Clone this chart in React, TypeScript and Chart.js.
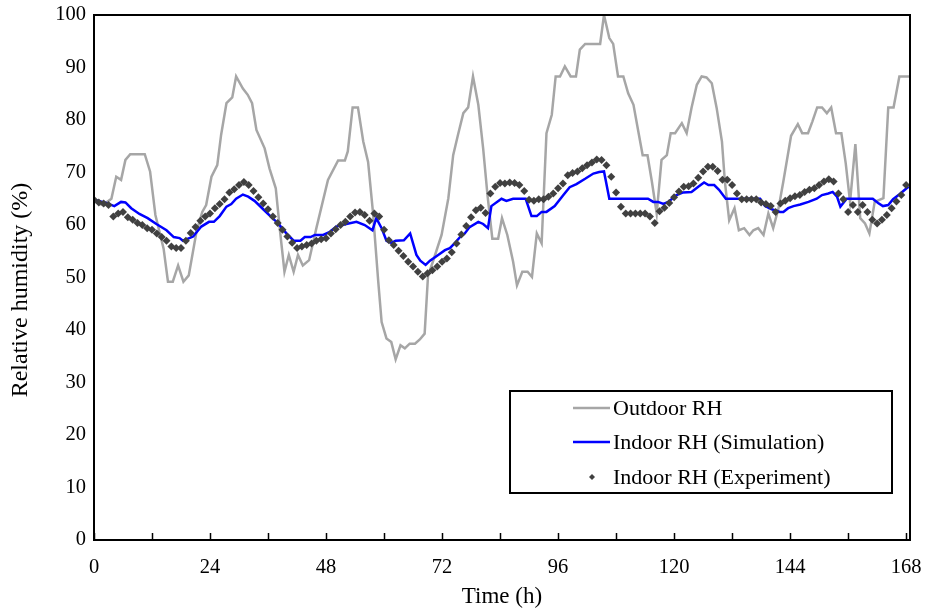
import React, { useEffect, useRef } from "react";
import { Chart, registerables } from "chart.js";

Chart.register(...registerables);

const FONT = "'Liberation Serif', 'Times New Roman', Times, serif";

// Outdoor RH (hours, %)
const outdoorHours = [
  0, 1.8, 3.6, 4.6, 5.6, 6.5, 7.5, 10.5, 11.6, 12.7, 14.4, 15.3, 16.3, 17.4, 18.5, 19.6, 21.2, 22.4, 23.2,
  24.3, 25.5, 26.3, 27.4, 28.6, 29.4, 30.8, 31.8, 32.7, 33.6, 35.3, 36.3, 37.6, 38.5, 39.4, 40.3, 41.3, 42.2,
  43.2, 44.5, 46, 48.4, 50.5, 51.9, 52.5, 53.5, 54.6, 55.7, 56.7, 57.7, 58.8, 59.5, 60.5, 61.5, 62.4, 63.4,
  64.3, 65.3, 66.4, 67.4, 68.4, 69.1, 70.1, 71.9, 73.3, 74.3, 75.3, 76.4, 77.4, 78.4, 79.5, 80.5, 81.4, 82.4,
  83.6, 84.4, 85.5, 86.7, 87.5, 88.6, 89.7, 90.6, 91.6, 92.6, 93.6, 94.7, 95.5, 96.4, 97.4, 98.6, 99.7, 100.5,
  101.6, 104.7, 105.5, 106.6, 107.4, 108.4, 109.5, 110.5, 111.6, 112.6, 113.5, 114.5, 115.4, 116.4, 117.4,
  118.5, 119.3, 120.2, 121.6, 122.6, 123.6, 124.7, 125.7, 126.7, 127.8, 128.8, 129.9, 130.5, 131.4, 132.5,
  133.4, 134.5, 135.6, 136.4, 137.4, 138.5, 139.5, 140.5, 141.6, 142.6, 144.2, 145.6, 146.5, 147.7, 148.6,
  149.6, 150.6, 151.6, 152.5, 153.5, 154.6, 155.5, 156.4, 157.5, 158.5, 159.5, 160.4, 161.5, 163.3, 164.3,
  165.4, 166.6, 168.8,
];
const outdoorRH = [
  64.5, 63.8, 65, 69.2, 68.6, 72.4, 73.5, 73.5, 70.2, 61.9, 55.5, 49.2, 49.2, 52.3, 49.2, 50.4, 58.7, 62.5, 63.8,
  69.2, 71.4, 77.2, 83.2, 84.3, 88.3, 86, 84.8, 83.2, 78.1, 74.6, 70.8, 67, 58.7, 51.1, 54.3, 51.1, 54.3,
  52.3, 53.3, 59.4, 68.6, 72.3, 72.3, 74, 82.4, 82.4, 75.9, 72, 62.5, 49.2, 41.5, 38.4, 37.7, 34.4, 37.1,
  36.5, 37.4, 37.4, 38.2, 39.3, 50.4, 53, 58.1, 65.1, 73.3, 77.2, 81.3, 82.4, 88.3, 82.9, 74.6, 65.7, 57.4,
  57.4, 61.3, 58.1, 53, 48.5, 51.1, 51.1, 50.1, 58.4, 56.5, 77.5, 81, 88.3, 88.3, 90.2, 88.3, 88.3, 93.4,
  94.5, 94.5, 100, 95.6, 94.5, 88.3, 88.3, 85.1, 82.9, 77.8, 73.3, 73.3, 68.3, 62.2, 72.4,
  73.3, 77.5, 77.5, 79.4, 77.5, 82.3, 86.7, 88.3, 88.1, 87, 82.3, 75.9, 68.3, 60.9, 63.2,
  59, 59.4, 58.1, 59, 59.4, 58.1, 62.2, 59.4, 63.2, 68.3, 77, 79.2, 77.5, 77.5, 79.7,
  82.4, 82.4, 81.3, 82.4, 77.5, 77.5, 71.8, 64.4, 75.4, 61.3, 60.3, 58.4, 64.4, 65.1, 82.4,
  82.4, 88.3, 88.3,
];

// Indoor RH, simulation (hours, %)
const simHours = [
  0, 2.5, 4.2, 5.6, 6.5, 7.7, 9.4, 11.1, 12.9, 15, 16.5, 17.7, 18.4, 20.5, 22.2, 23.8, 24.8, 26, 27.4, 28.4,
  29.4, 30.8, 31.9, 33.2, 35, 36.9, 38, 39.8, 41.3, 42.7, 43.6, 44.8, 45.7, 47.4, 48.8, 50.1, 52.2, 54.3, 56,
  57.6, 58.4, 59.5, 60.5, 61.5, 62.4, 64.1, 65.4, 66.7, 67.5, 68.6, 69.5, 71.2, 72.6, 73.6, 74.6, 75.8, 76.7,
  77.7, 79.5, 80.5, 81.5, 82.2, 84.3, 85.3, 86.7, 89.3, 90.5, 91.6, 92.6, 93.6, 95.3, 97.1, 98.4, 99.8, 101.6,
  103.3, 104.5, 105.5, 106.6, 114.6, 115.7, 116.7, 117.8, 118.8, 120.5, 121.9, 123.6, 125, 126.2, 127.1, 128.3,
  129.3, 130.7, 137.8, 138.8, 140.2, 141.9, 142.6, 143.6, 144.7, 146.1, 147.8, 149.5, 150.6, 151.9, 152.8,
  153.7, 154.4, 155.7, 161.1, 162.2, 163.2, 164.3, 165.3, 166.7, 168.1, 168.5,
];
const simRH = [
  64.8, 64.2, 63.6, 64.4, 64.3, 63.2, 62.1, 61.3, 60.2, 59, 57.7, 57.5, 57, 57.8, 59.7, 60.6, 60.6, 61.7, 63.5, 64,
  65, 65.8, 65.4, 64.6, 63, 61.3, 60.4, 58.4, 57, 57, 57.7, 57.7, 58.1, 58.1, 58.7, 59.7, 60.2, 60.6, 60,
  59, 61.3, 59.4, 57, 56.6, 57, 57.1, 58.4, 54.3, 53.2, 52.4, 53.2, 54.3, 55.2, 55.6, 56.5, 57.8, 58.4,
  59.6, 60.6, 60.2, 59.4, 63.6, 65, 64.6, 65, 65, 61.7, 61.7, 62.5, 62.5, 63.6, 65.7, 67.2, 67.8, 68.8,
  69.8, 70.1, 70.2, 65, 65, 64.4, 64.4, 64, 64.4, 65.7, 66.2, 66.3, 67.3, 68.1, 67.6, 67.6,
  66.7, 65, 65, 63.6, 63, 62.5, 62.5, 63.2, 63.6, 63.9, 64.4, 65, 65.7, 66, 66.3,
  65.4, 63.5, 65, 65, 64.2, 63.6, 63.8, 64.9, 65.9, 67, 67.3,
];

// Indoor RH, experiment (hourly, hour 0 to 168)
const expRH = [
  64.8, 64.3, 64.1, 63.8, 61.6, 62.2, 62.5, 61.5, 61.0, 60.4, 60.0, 59.4, 59.1, 58.4, 57.7, 57.0, 55.9, 55.6,
  55.6, 57.0, 58.5, 59.6, 60.8, 61.6, 62.2, 63.2, 64.0, 64.9, 66.2, 66.8, 67.6, 68.2, 67.6, 66.5, 65.3, 64.1,
  63.0, 61.6, 60.4, 59.1, 57.8, 56.6, 55.6, 55.9, 56.2, 56.5, 57.0, 57.3, 57.5, 58.4, 59.2, 60.0, 60.6, 61.6,
  62.4, 62.5, 61.9, 60.8, 62.2, 61.6, 59.1, 57.1, 56.2, 55.1, 54.1, 53.0, 52.1, 51.1, 50.2, 50.8, 51.4, 52.1,
  53.0, 53.6, 54.8, 56.5, 58.2, 59.8, 61.5, 62.8, 63.3, 62.3, 66.0, 67.3, 68.0, 67.9, 68.1, 68.0, 67.6, 66.5,
  64.8, 64.6, 64.9, 64.9, 65.4, 66.0, 67.0, 67.9, 69.5, 69.9, 70.2, 70.8, 71.4, 71.9, 72.5, 72.4, 71.4, 69.2,
  66.2, 63.5, 62.2, 62.2, 62.2, 62.2, 62.2, 61.6, 60.4, 62.6, 63.3, 64.2, 65.3, 66.4, 67.3, 67.4, 67.9, 69.0,
  70.2, 71.1, 71.1, 70.3, 68.6, 68.6, 67.6, 66.0, 64.9, 64.9, 64.9, 64.9, 64.3, 64.0, 63.6, 62.5, 64.1, 64.6,
  65.1, 65.5, 65.7, 66.3, 66.7, 67.0, 67.6, 68.3, 68.7, 68.3, 66.0, 64.9, 62.5, 63.8, 62.5, 63.8, 62.5, 61.0,
  60.3, 61.0, 61.9, 63.2, 64.5, 65.7, 67.6,
];

const xTickValues = [0, 12, 24, 36, 48, 60, 72, 84, 96, 108, 120, 132, 144, 156, 168];
const xLabelValues = [0, 24, 48, 72, 96, 120, 144, 168];
const yTickValues = [0, 10, 20, 30, 40, 50, 60, 70, 80, 90, 100];

const xTitle = "Time (h)";
const yTitle = "Relative humidity (%)";
const seriesLabels = ["Outdoor RH", "Indoor RH (Simulation)", "Indoor RH (Experiment)"];
const seriesColors = ["#a6a6a6", "#0000ff", "#404040"];

export default function App() {
  const ref = useRef<HTMLCanvasElement>(null);

  useEffect(() => {
    const canvas = ref.current;
    if (!canvas) return;

    const framePlugin = {
      id: "frame",
      afterDatasetsDraw(chart: any) {
        const { ctx, chartArea: a, scales } = chart;
        ctx.save();
        ctx.strokeStyle = "#000";
        ctx.lineWidth = 1.5;
        ctx.beginPath();
        for (const v of xTickValues) {
          const px = Math.round(scales.x.getPixelForValue(v)) + 0.5;
          ctx.moveTo(px, a.bottom);
          ctx.lineTo(px, a.bottom - 7);
        }
        ctx.stroke();
        ctx.lineWidth = 2;
        ctx.strokeRect(a.left, a.top, a.right - a.left, a.bottom - a.top);
        ctx.restore();
      },
    };

    const yTitlePlugin = {
      id: "yTitle",
      afterDraw(chart: any) {
        const { ctx } = chart;
        ctx.save();
        ctx.translate(21, 290);
        ctx.rotate(-Math.PI / 2);
        ctx.font = `24px ${FONT}`;
        ctx.fillStyle = "#000";
        ctx.textAlign = "center";
        ctx.textBaseline = "middle";
        ctx.fillText(yTitle, 0, 0);
        ctx.restore();
      },
    };

    const legendPlugin = {
      id: "boxLegend",
      afterDraw(chart: any) {
        const { ctx } = chart;
        const ds = chart.data.datasets;
        const box = { x: 510, y: 391, w: 382, h: 102 };
        ctx.save();
        ctx.fillStyle = "#fff";
        ctx.fillRect(box.x, box.y, box.w, box.h);
        ctx.strokeStyle = "#000";
        ctx.lineWidth = 2;
        ctx.strokeRect(box.x, box.y, box.w, box.h);
        ctx.font = `22px ${FONT}`;
        ctx.textBaseline = "middle";
        ctx.textAlign = "left";
        const rows = [408, 442, 477];
        ds.forEach((d: any, i: number) => {
          const y = rows[i];
          if (d.showLine === false) {
            ctx.fillStyle = d.pointBackgroundColor;
            ctx.beginPath();
            const r = 3;
            ctx.moveTo(592, y - r);
            ctx.lineTo(592 + r, y);
            ctx.lineTo(592, y + r);
            ctx.lineTo(592 - r, y);
            ctx.closePath();
            ctx.fill();
          } else {
            ctx.strokeStyle = d.borderColor;
            ctx.lineWidth = d.borderWidth;
            ctx.beginPath();
            ctx.moveTo(573, y);
            ctx.lineTo(610, y);
            ctx.stroke();
          }
          ctx.fillStyle = "#000";
          ctx.fillText(d.label, 613, y + 1);
        });
        ctx.restore();
      },
    };

    const chart = new Chart(canvas, {
      type: "line",
      data: {
        datasets: [
          {
            label: seriesLabels[0],
            data: outdoorHours.map((h, i) => ({ x: h, y: outdoorRH[i] })),
            borderColor: seriesColors[0],
            borderWidth: 2.5,
            pointRadius: 0,
            tension: 0,
            order: 3,
          },
          {
            label: seriesLabels[1],
            data: simHours.map((h, i) => ({ x: h, y: simRH[i] })),
            borderColor: seriesColors[1],
            borderWidth: 2.5,
            pointRadius: 0,
            tension: 0,
            order: 2,
          },
          {
            label: seriesLabels[2],
            data: expRH.map((v, i) => ({ x: i, y: v })),
            showLine: false,
            pointStyle: "rectRot",
            pointRadius: 4,
            pointBorderWidth: 0,
            pointBackgroundColor: seriesColors[2],
            pointBorderColor: seriesColors[2],
            borderColor: seriesColors[2],
            order: 1,
          },
        ],
      },
      options: {
        responsive: false,
        animation: false,
        devicePixelRatio: 1,
        layout: { padding: { top: 15, right: 17, left: 0, bottom: 0 } },
        plugins: {
          legend: { display: false },
          tooltip: { enabled: false },
        },
        scales: {
          x: {
            type: "linear",
            min: 0,
            max: 168.8,
            afterBuildTicks(scale: any) {
              scale.ticks = xTickValues.map((v) => ({ value: v }));
            },
            afterFit(scale: any) {
              scale.height = 74;
              scale.paddingLeft = 0;
              scale.paddingRight = 0;
            },
            grid: { display: false, drawTicks: false },
            border: { display: false },
            ticks: {
              autoSkip: false,
              maxRotation: 0,
              padding: 15,
              color: "#000",
              font: { family: FONT, size: 20.5 },
              callback: (v: any) => (xLabelValues.includes(Number(v)) ? String(v) : ""),
            },
            title: {
              display: true,
              text: xTitle,
              color: "#000",
              font: { family: FONT, size: 23 },
              padding: { top: 0, bottom: 3 },
            },
          },
          y: {
            min: 0,
            max: 100,
            afterBuildTicks(scale: any) {
              scale.ticks = yTickValues.map((v) => ({ value: v }));
            },
            afterFit(scale: any) {
              scale.width = 94;
              scale.paddingTop = 0;
              scale.paddingBottom = 0;
            },
            grid: { display: false, drawTicks: false },
            border: { display: false },
            ticks: {
              padding: 8,
              color: "#000",
              font: { family: FONT, size: 20.5 },
            },
            title: { display: false },
          },
        },
      },
      plugins: [framePlugin, yTitlePlugin, legendPlugin],
    });

    return () => chart.destroy();
  }, []);

  return (
    <div style={{ position: "absolute", left: 0, top: 0, width: 927, height: 614, background: "#fff" }}>
      <canvas ref={ref} width={927} height={614} style={{ display: "block" }} />
    </div>
  );
}
